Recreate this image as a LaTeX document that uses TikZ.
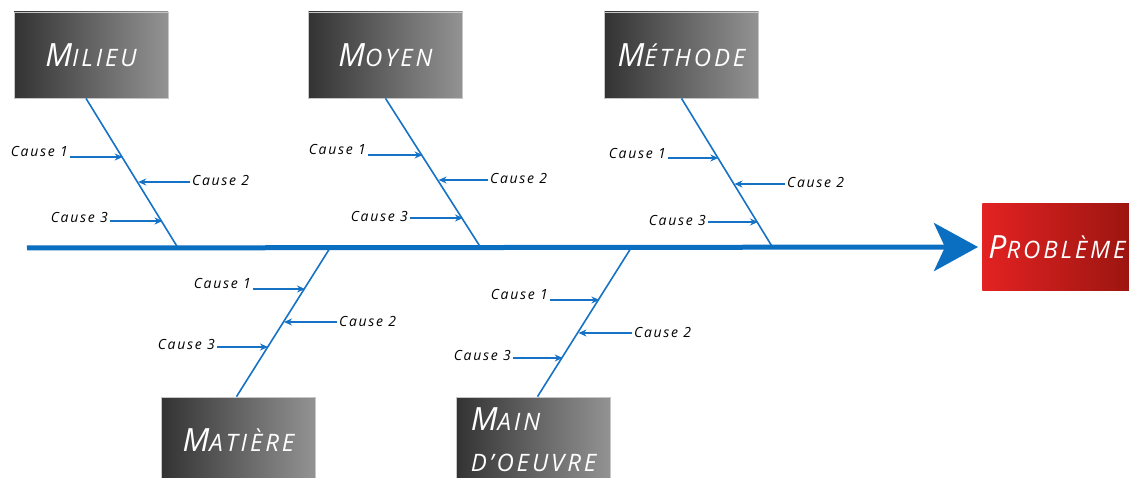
\documentclass[tikz,border=0pt]{standalone}
\usepackage{fontspec}
\usetikzlibrary{arrows.meta}
\newfontfamily\handfont[LetterSpace=12]{Open Sans}
\definecolor{boneblue}{HTML}{1672C4}
\definecolor{spineblue}{HTML}{0B6FC1}
\definecolor{boxdark}{HTML}{333333}
\definecolor{boxlight}{HTML}{939393}
\definecolor{probred}{HTML}{E32222}
\definecolor{probdark}{HTML}{9B1510}
\newcommand{\capsword}[2]{{\fontsize{32}{41}\selectfont #1}{\fontsize{24}{41}\selectfont #2}}
\begin{document}
\begin{tikzpicture}[x=1pt,y=-1pt,
    catbox/.style={draw=gray!45, line width=0.8pt, left color=boxdark, right color=boxlight,
      minimum width=154pt, minimum height=86pt, inner sep=0pt, text=white,
      font=\handfont\itshape\fontsize{32}{41}\selectfont},
    bone/.style={draw=boneblue, line width=1.6pt},
    spine/.style={draw=spineblue, line width=5pt, -{Stealth[length=44pt,width=48pt,inset=11pt]}, shorten >=4pt},
    cause/.style={font=\handfont\itshape\fontsize{14}{14}\selectfont, inner sep=2pt},
    causearrow/.style={draw=boneblue, line width=1.3pt, -{Stealth[length=8pt,width=7pt]}}]
  \useasboundingbox (0,0) rectangle (1129,478);

  % categories
  \node[catbox] (milieu) at (91,55) {\capsword{M}{ILIEU}};
  \node[catbox] (moyen) at (385.5,55) {\capsword{M}{OYEN}};
  \node[catbox] (methode) at (681.5,55) {\capsword{M}{ÉTHODE}};
  \node[catbox] (matiere) at (238.5,440) {\capsword{M}{ATIÈRE}};
  \node[catbox, align=left] (mainoeuvre) at (533.5,440) {\capsword{M}{AIN}\\\capsword{}{D’OEUVRE}};
  \node[catbox, draw=none, left color=probred, right color=probdark, anchor=west,
    minimum width=0pt, inner xsep=6pt] (probleme) at (982,247) {\capsword{P}{ROBLÈME}};

  % spine and bones
  \coordinate (tail) at (27,248);
  \coordinate (s1) at (178,248);
  \coordinate (s2) at (481,248);
  \coordinate (s3) at (773,248);
  \coordinate (s4) at (330,248);
  \coordinate (s5) at (631,248);
  \draw[bone] ([xshift=-5pt]milieu.south) -- (s1);
  \draw[bone] (moyen.south) -- (s2);
  \draw[bone] (methode.south) -- (s3);
  \draw[bone] ([xshift=-2pt]matiere.north) -- (s4);
  \draw[bone] ([xshift=4pt]mainoeuvre.north) -- (s5);
  \draw[spine] (tail) -- (probleme.west);

  % milieu
  \node[cause, anchor=east] (ml1) at (70,152) {Cause 1};
  \node[cause, anchor=west] (ml2) at (190,181) {Cause 2};
  \node[cause, anchor=east] (ml3) at (110,218) {Cause 3};
  \coordinate (tml1) at (122.7,157);
  \coordinate (tml2) at (138.2,182);
  \coordinate (tml3) at (162.5,221);
  \draw[causearrow] (ml1.east |- tml1) -- (tml1);
  \draw[causearrow] (ml2.west |- tml2) -- (tml2);
  \draw[causearrow] (ml3.east |- tml3) -- (tml3);

  % moyen
  \node[cause, anchor=east] (mo1) at (368,150) {Cause 1};
  \node[cause, anchor=west] (mo2) at (488,179) {Cause 2};
  \node[cause, anchor=east] (mo3) at (410,216) {Cause 3};
  \coordinate (tmo1) at (422.6,155);
  \coordinate (tmo2) at (438.6,180);
  \coordinate (tmo3) at (463,218);
  \draw[causearrow] (mo1.east |- tmo1) -- (tmo1);
  \draw[causearrow] (mo2.west |- tmo2) -- (tmo2);
  \draw[causearrow] (mo3.east |- tmo3) -- (tmo3);

  % methode
  \node[cause, anchor=east] (me1) at (668,154) {Cause 1};
  \node[cause, anchor=west] (me2) at (785,183) {Cause 2};
  \node[cause, anchor=east] (me3) at (708,220) {Cause 3};
  \coordinate (tme1) at (718.3,158);
  \coordinate (tme2) at (734.5,184);
  \coordinate (tme3) at (758,222);
  \draw[causearrow] (me1.east |- tme1) -- (tme1);
  \draw[causearrow] (me2.west |- tme2) -- (tme2);
  \draw[causearrow] (me3.east |- tme3) -- (tme3);

  % matiere
  \node[cause, anchor=east] (ma1) at (253,283) {Cause 1};
  \node[cause, anchor=west] (ma2) at (337,321) {Cause 2};
  \node[cause, anchor=east] (ma3) at (217,344) {Cause 3};
  \coordinate (tma1) at (305,289);
  \coordinate (tma2) at (284,322);
  \coordinate (tma3) at (268,347);
  \draw[causearrow] (ma1.east |- tma1) -- (tma1);
  \draw[causearrow] (ma2.west |- tma2) -- (tma2);
  \draw[causearrow] (ma3.east |- tma3) -- (tma3);

  % main d'oeuvre
  \node[cause, anchor=east] (mw1) at (550,294) {Cause 1};
  \node[cause, anchor=west] (mw2) at (632,332) {Cause 2};
  \node[cause, anchor=east] (mw3) at (513,355) {Cause 3};
  \coordinate (tmw1) at (599.4,300);
  \coordinate (tmw2) at (578.5,333);
  \coordinate (tmw3) at (562.7,358);
  \draw[causearrow] (mw1.east |- tmw1) -- (tmw1);
  \draw[causearrow] (mw2.west |- tmw2) -- (tmw2);
  \draw[causearrow] (mw3.east |- tmw3) -- (tmw3);
\end{tikzpicture}
\end{document}
